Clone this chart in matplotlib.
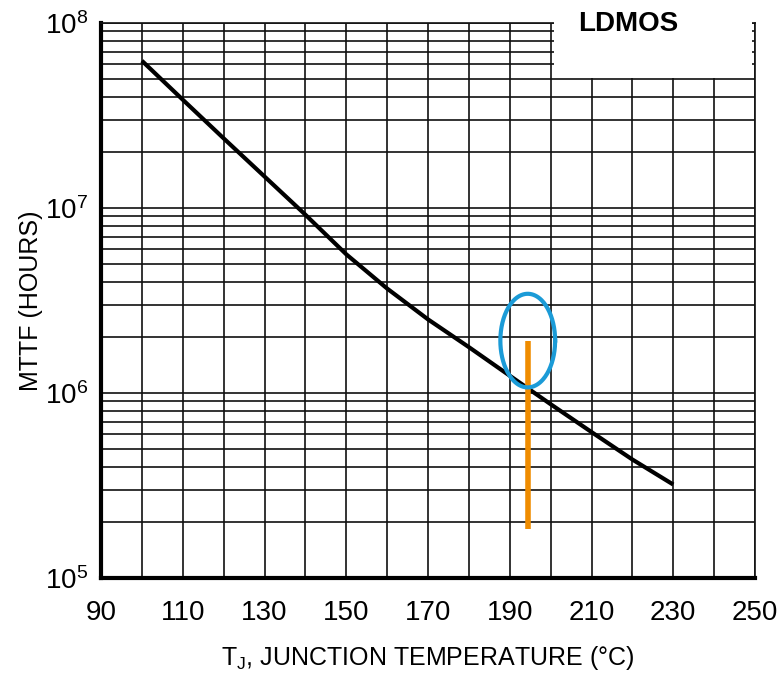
import numpy as np
import matplotlib
matplotlib.use("Agg")
from matplotlib import pyplot as plt
from matplotlib.patches import Rectangle
from matplotlib.ticker import LogLocator, LogFormatterMathtext, MultipleLocator, NullFormatter

# curve (junction temperature in degC, MTTF in hours)
temps = [100, 110, 120, 130, 140, 150, 160, 170, 180, 190, 200, 210, 220, 230]
mttf = [6.25e7, 3.85e7, 2.38e7, 1.48e7, 9.2e6, 5.62e6, 3.67e6, 2.50e6,
        1.77e6, 1.24e6, 8.7e5, 6.15e5, 4.37e5, 3.2e5]

# orange marker line and blue ellipse
mark_t = 194.4
mark_range = [1.83e5, 1.92e6]
ell_center = (194.4, 1.92e6)
ell_half_w = 6.7        # degC
ell_half_h = 0.253      # decades

x_ticks = [90, 110, 130, 150, 170, 190, 210, 230, 250]

fonts = ['Liberation Sans Narrow', 'Liberation Sans', 'DejaVu Sans']
plt.rcParams['font.family'] = fonts
plt.rcParams['mathtext.fontset'] = 'custom'
plt.rcParams['mathtext.rm'] = 'Liberation Sans'
plt.rcParams['mathtext.it'] = 'Liberation Sans'


def main():
    fig = plt.figure(figsize=(7.79, 6.81), dpi=100)
    ax = fig.add_axes([101 / 779, 103 / 681, 654 / 779, 555 / 681])

    ax.set_yscale('log')
    ax.set_xlim(90, 250)
    ax.set_ylim(1e5, 1e8)

    # grid every 10 degC and every minor log step
    ax.xaxis.set_major_locator(MultipleLocator(10))
    ax.yaxis.set_major_locator(LogLocator(base=10, numticks=10))
    ax.yaxis.set_minor_locator(LogLocator(base=10, subs=np.arange(2, 10), numticks=20))
    ax.yaxis.set_minor_formatter(NullFormatter())
    ax.grid(True, which='both', axis='y', color='#111111', lw=1.2)
    ax.grid(True, which='major', axis='x', color='#111111', lw=1.2)
    ax.set_xticks(np.arange(90, 251, 10))
    ax.set_xticklabels([str(t) if t in x_ticks else '' for t in range(90, 251, 10)])
    ax.yaxis.set_major_formatter(LogFormatterMathtext())

    ax.tick_params(which='both', length=0)
    ax.tick_params(axis='x', pad=16, labelsize=20)
    ax.tick_params(axis='y', pad=9, labelsize=20)

    for s in ['left', 'bottom']:
        ax.spines[s].set_linewidth(3)
    for s in ['top', 'right']:
        ax.spines[s].set_linewidth(1.2)
        ax.spines[s].set_color('#111111')

    ax.plot(temps, mttf, color='black', lw=3, solid_capstyle='butt',
            solid_joinstyle='round', zorder=4)

    ax.plot([mark_t, mark_t], mark_range, color='#ef8c00', lw=4, solid_capstyle='butt', zorder=5)

    th = np.linspace(0, 2 * np.pi, 200)
    ex = ell_center[0] + ell_half_w * np.cos(th)
    ey = 10 ** (np.log10(ell_center[1]) + ell_half_h * np.sin(th))
    ax.plot(ex, ey, color='#1b9bd7', lw=3, zorder=6)

    ax.set_xlabel('T$_{\\rm J}$, JUNCTION TEMPERATURE (°C)', fontsize=18, labelpad=13)
    ax.set_ylabel('MTTF (HOURS)', fontsize=18, labelpad=2)

    # white box with the device label
    fig.patches.append(Rectangle((554 / 779, 1 - 78 / 681), 198 / 779, 78 / 681,
                                 transform=fig.transFigure, facecolor='white',
                                 edgecolor='none', zorder=5))
    fig.text(628 / 779, 1 - 24 / 681, 'LDMOS', ha='center', va='center',
             fontsize=20, fontweight='bold', family=['Liberation Sans', 'DejaVu Sans'],
             zorder=6)

    fig.savefig('out.png', dpi=100)


if '__main__' == __name__:
    main()
